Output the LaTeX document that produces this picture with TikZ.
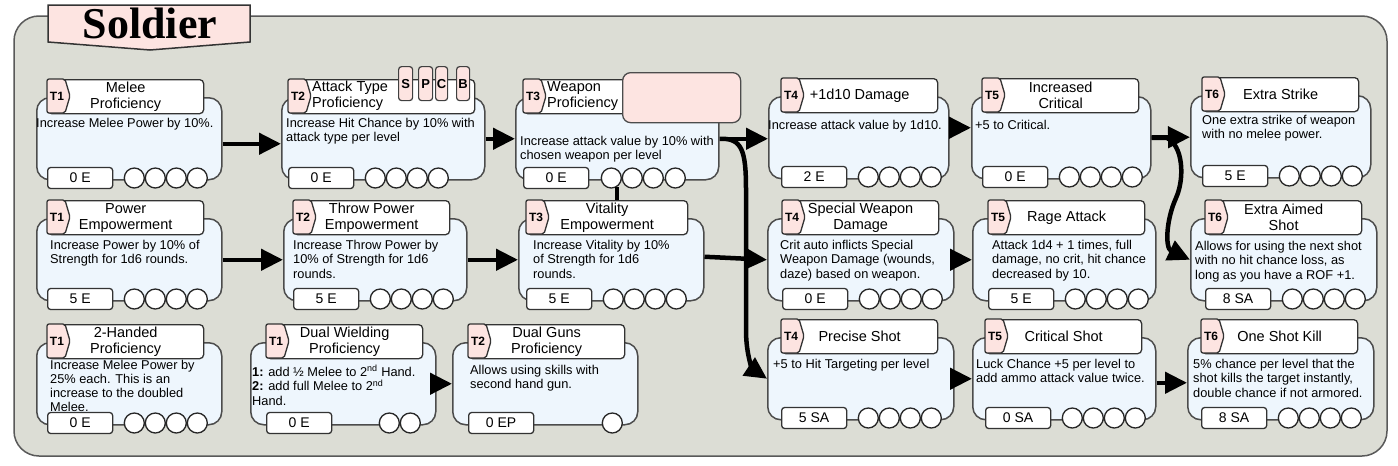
\documentclass[tikz,border=0pt]{standalone}
\usepackage{fontspec}
\setmainfont{Liberation Sans}
\newfontfamily\titlefont{Liberation Serif}
\usepackage{tikz}
\usetikzlibrary{arrows.meta, positioning}
\definecolor{panelgray}{HTML}{DCDDD5}
\definecolor{cardblue}{HTML}{EEF6FD}
\definecolor{tagpink}{HTML}{FDE4E1}
\tikzstyle{panel} = [draw=black!65, fill=panelgray, line width=1.5pt, rounded corners=25pt]
\tikzstyle{banner} = [draw=black!80, fill=tagpink, line width=1.5pt]
\tikzstyle{cardbody} = [rectangle, draw=black!70, fill=cardblue, line width=1.5pt, rounded corners=13pt, minimum height=82pt, inner sep=0pt]
\tikzstyle{cardhead} = [rectangle, draw=black!80, fill=white, line width=1.3pt, rounded corners=4pt, minimum width=156pt, minimum height=34pt, inner sep=0pt, align=center, font=\fontsize{14.5}{16}\selectfont]
\tikzstyle{tiertag} = [draw=black!80, fill=tagpink, line width=1.3pt, rounded corners=2pt]
\tikzstyle{tierlabel} = [inner sep=0pt, font=\bfseries\fontsize{12}{12}\selectfont]
\tikzstyle{headtext} = [anchor=west, inner sep=0pt, align=left, font=\fontsize{14.5}{16}\selectfont]
\tikzstyle{typetab} = [rectangle, draw=black!75, fill=tagpink, line width=1.2pt, rounded corners=3pt, minimum height=34pt, inner sep=0pt, anchor=north west, font=\bfseries\fontsize{13}{13}\selectfont]
\tikzstyle{weaponbox} = [rectangle, draw=black!70, fill=tagpink, line width=1.3pt, rounded corners=8pt, minimum width=118pt, minimum height=50pt, anchor=north west]
\tikzstyle{costbox} = [rectangle, draw=black!80, fill=white, line width=1.3pt, rounded corners=3pt, minimum width=65pt, minimum height=21pt, inner sep=0pt, font=\fontsize{14}{14}\selectfont]
\tikzstyle{pip} = [circle, draw=black!85, fill=white, line width=1.3pt, minimum size=20pt, inner sep=0pt]
\tikzstyle{desc} = [anchor=north west, inner sep=0pt, align=left, font=\fontsize{12.8}{14.5}\selectfont]
\tikzstyle{arrow} = [line width=4.5pt, -{Triangle[length=22pt,width=21pt]}]
\tikzstyle{link} = [line width=4pt]
% [header options]{name}{x}{y}{width}{header x}{tier}{title}{cost}
\newcommand{\skillcard}[9][]{%
    \node[cardbody, minimum width=#5, anchor=north west] (#2) at (#3,#4) {};
    \node[cardhead, anchor=north west, #1] (#2-h) at (#6,#4-18) {#8};
    \draw[tiertag] (#6,#4-18) -- ++(18,0) -- ++(5,17) -- ++(-5,17) -- ++(-18,0) -- cycle;
    \node[tierlabel] (#2-t) at (#6+10,#4-1) {#7};
    \node[costbox, anchor=west] (#2-c) at (#6,#4+81) {#9};
}
\newcommand{\pips}[2]{\foreach \d [count=\i] in {#2} {\node[pip] (#1-p\i) at ([xshift=\d]#1-c.east) {};}}

\begin{document}
\begin{tikzpicture}[x=1pt, y=-1pt]
    \fill[white] (0,0) rectangle (1398,466);
    \useasboundingbox (0,0) rectangle (1398,466);
    \draw[panel] (14,16) rectangle (1387,456);
    \draw[banner] (48,5) -- (250,5) -- (250,42) -- (150,50) -- (48,42) -- cycle;
    \node[anchor=base, inner sep=0pt, font=\titlefont\bfseries\fontsize{44}{44}\selectfont] (title) at (150,38) {Soldier};

    % first row
    \skillcard{melee}{36}{97}{185}{47}{T1}{Melee\\Proficiency}{0 E}
    \pips{melee}{21,42,63,84}
    \node[desc] (melee-d) at (36,118) {Increase Melee Power by 10\%.};

    \skillcard[minimum width=186]{atktype}{281}{97}{203}{288}{T2}{}{0 E}
    \node[headtext] (atktype-n) at (312,96) {Attack Type\\Proficiency};
    \node[typetab, minimum width=14] (atktype-tabS) at (398,66) {S};
    \node[typetab, minimum width=14] (atktype-tabP) at (418,66) {P};
    \node[typetab, minimum width=12] (atktype-tabC) at (435,66) {C};
    \node[typetab, minimum width=13] (atktype-tabB) at (456,66) {B};
    \pips{atktype}{21,42,63,84}
    \node[desc] (atktype-d) at (286,118) {Increase Hit Chance by 10\% with\\attack type per level};

    \skillcard[minimum width=160]{weapon}{515}{97}{203}{523}{T3}{}{0 E}
    \node[headtext] (weapon-n) at (547,96) {Weapon\\Proficiency};
    \node[weaponbox] (weapon-box) at (622,72) {};
    \pips{weapon}{22,43,64,86}
    \node[desc] (weapon-d) at (520,136) {Increase attack value by 10\% with\\chosen weapon per level};

    \skillcard{dmg}{768}{96}{180}{781}{T4}{+1d10 Damage}{2 E}
    \pips{dmg}{21,42,63,84}
    \node[desc] (dmg-d) at (768,120) {Increase attack value by 1d10.};

    \skillcard{crit}{971}{96}{179}{982}{T5}{Increased\\Critical}{0 E}
    \pips{crit}{21,42,63,84}
    \node[desc] (crit-d) at (975,120) {+5 to Critical.};

    \skillcard{strike}{1190}{95}{180}{1202}{T6}{Extra Strike}{5 E}
    \pips{strike}{21,42,63,84}
    \node[desc] (strike-d) at (1202,115) {One extra strike of weapon\\with no melee power.};

    % second row
    \skillcard{power}{36}{218}{185}{47}{T1}{Power\\Empowerment}{5 E}
    \pips{power}{21,42,63,84}
    \node[desc] (power-d) at (50,240) {Increase Power by 10\% of\\Strength for 1d6 rounds.};

    \skillcard{throw}{283}{218}{183}{293}{T2}{Throw Power\\Empowerment}{5 E}
    \pips{throw}{21,42,63,84}
    \node[desc] (throw-d) at (293,240) {Increase Throw Power by\\10\% of Strength for 1d6\\rounds.};

    \skillcard[minimum width=161]{vital}{518}{218}{185}{526}{T3}{Vitality\\Empowerment}{5 E}
    \pips{vital}{21,42,63,84}
    \node[desc] (vital-d) at (533,240) {Increase Vitality by 10\%\\of Strength for 1d6\\rounds.};

    \skillcard{special}{767}{218}{186}{782}{T4}{Special Weapon\\Damage}{0 E}
    \pips{special}{21,42,63,84}
    \node[desc] (special-d) at (780,240) {Crit auto inflicts Special\\Weapon Damage (wounds,\\daze) based on weapon.};

    \skillcard{rage}{972}{218}{183}{988}{T5}{Rage Attack}{5 E}
    \pips{rage}{21,42,63,84}
    \node[desc] (rage-d) at (992,240) {Attack 1d4 + 1 times, full\\damage, no crit, hit chance\\decreased by 10.};

    \skillcard{aimed}{1190}{218}{186}{1205}{T6}{Extra Aimed\\Shot}{8 SA}
    \pips{aimed}{21,42,63,84}
    \node[desc] (aimed-d) at (1195,241) {Allows for using the next shot\\with no hit chance loss, as\\long as you have a ROF +1.};

    % third row
    \skillcard{twohand}{36}{342}{185}{47}{T1}{2-Handed\\Proficiency}{0 E}
    \pips{twohand}{21,42,63,84}
    \node[desc, font=\fontsize{12.8}{14}\selectfont] (twohand-d) at (50,360) {Increase Melee Power by\\25\% each. This is an\\increase to the doubled\\Melee.};

    \skillcard{dualwield}{250}{342}{185}{266}{T1}{Dual Wielding\\Proficiency}{0 E}
    \pips{dualwield}{57,78}
    \node[desc] (dualwield-d) at (252,365) {\textbf{1:} add ½ Melee to 2\textsuperscript{nd} Hand.\\\textbf{2:} add full Melee to 2\textsuperscript{nd}\\Hand.};

    \skillcard{dualgun}{452}{342}{185}{468}{T2}{Dual Guns\\Proficiency}{0 EP}
    \pips{dualgun}{78}
    \node[desc] (dualgun-d) at (470,365) {Allows using skills with\\second hand gun.};

    \skillcard{precise}{767}{337}{186}{781}{T4}{Precise Shot}{5 SA}
    \pips{precise}{21,42,63,84}
    \node[desc] (precise-d) at (773,359) {+5 to Hit Targeting per level};

    \skillcard{critshot}{972}{337}{183}{985}{T5}{Critical Shot}{0 SA}
    \pips{critshot}{21,42,63,84}
    \node[desc] (critshot-d) at (976,359) {Luck Chance +5 per level to\\add ammo attack value twice.};

    \skillcard{oneshot}{1187}{337}{186}{1201}{T6}{One Shot Kill}{8 SA}
    \pips{oneshot}{21,42,63,84}
    \node[desc] (oneshot-d) at (1193,359) {5\% chance per level that the\\shot kills the target instantly,\\double chance if not armored.};

    % connectors
    \draw [arrow] ([yshift=-5pt]melee.east) -- ([yshift=-5pt]atktype.west);
    \draw [arrow] (atktype) -- (weapon);
    \draw [arrow] (weapon.east) -- (weapon.east -| dmg.west);
    \draw [arrow] (weapon.east) .. controls (742,138) and (746,150) .. (746,190) -- (746,330) .. controls (746,358) and (754,370) .. (precise.west);
    \draw [link] (weapon-p1.300) -- (weapon-p1.300 |- vital-h.north);
    \draw [arrow] (power) -- (throw);
    \draw [arrow] (throw) -- (vital);
    \draw [arrow] ([yshift=3pt]vital.east) -- (special.west);
    \draw [arrow] ([yshift=10pt]dmg.east) -- ([yshift=10pt]crit.west);
    \draw [arrow] (special) -- (rage);
    \draw [arrow] (crit) -- (strike);
    \draw [arrow] (crit.east) -- ++(15,0) .. controls (1183,145) and (1185,178) .. (1176,198) .. controls (1166,220) and (1165,248) .. (aimed.west);
    \draw [arrow] (dualwield) -- (dualgun);
    \draw [arrow] (precise) -- (critshot);
    \draw [arrow] ([yshift=-4pt]critshot.east) -- ([yshift=-4pt]oneshot.west);
\end{tikzpicture}
\end{document}
